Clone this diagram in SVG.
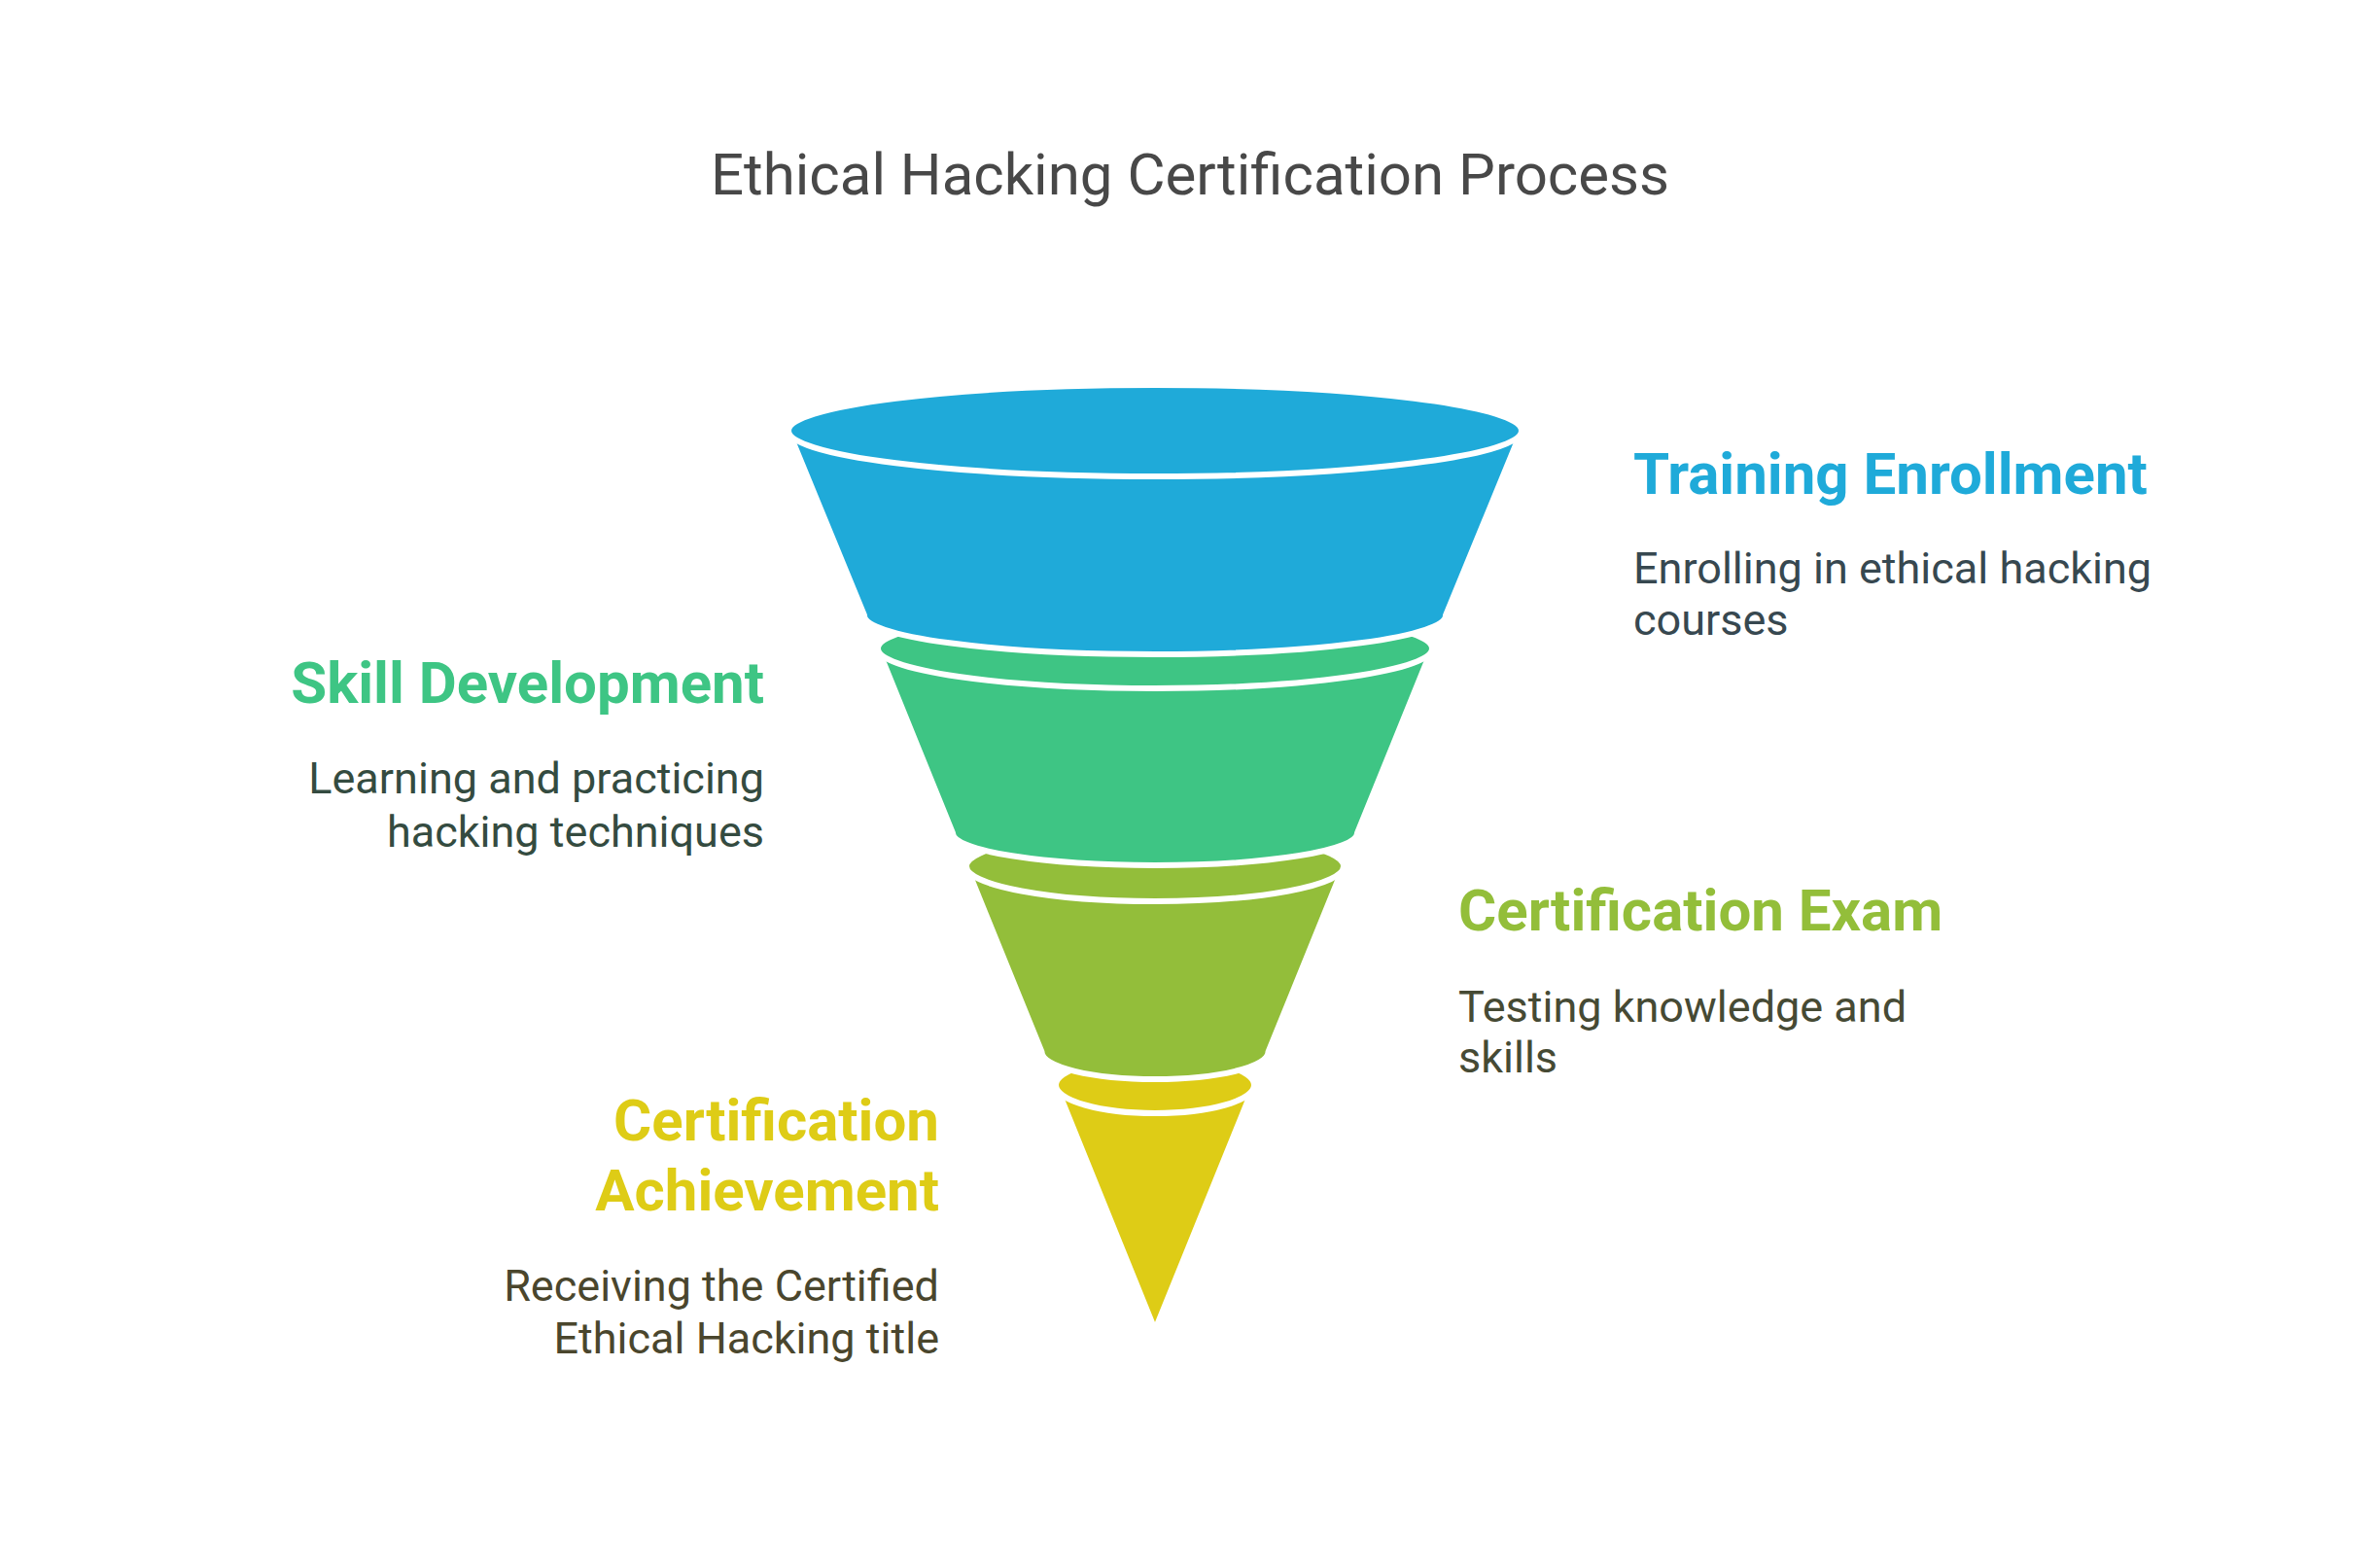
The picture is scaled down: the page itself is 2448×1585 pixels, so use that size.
<svg xmlns="http://www.w3.org/2000/svg" width="2448" height="1585" viewBox="0 0 2448 1585">
<style>
.layer{stroke:#FFFFFF;stroke-width:6;stroke-linejoin:round}
.blue{fill:#1FAAD9}
.green{fill:#3EC584}
.lime{fill:#93BE3A}
.yellow{fill:#DECC16}
.title{font-family:Roboto,"Liberation Sans",sans-serif;font-size:60px;fill:#484848}
.head{font-family:Roboto,"Liberation Sans",sans-serif;font-size:60px;font-weight:bold}
.desc{font-family:Roboto,"Liberation Sans",sans-serif;font-size:45px}
</style>
<rect x="0" y="0" width="2448" height="1585" fill="#FFFFFF"/>
<text class="title" x="1224" y="200" text-anchor="middle">Ethical Hacking Certification Process</text>
<g id="connectors"/>
<g id="stage4-certification-achievement">
<path class="layer yellow" d="M 1086,1116 L 1290,1116 L 1188,1368 Z"/>
<ellipse class="layer yellow" cx="1188" cy="1116" rx="102" ry="29"/>
<text class="head" x="966" y="1173" text-anchor="end" fill="#DECC16">Certification</text>
<text class="head" x="966" y="1245" text-anchor="end" fill="#DECC16">Achievement</text>
<text class="desc" x="966" y="1338" text-anchor="end" fill="#4A462D">Receiving the Certified</text>
<text class="desc" x="966" y="1392" text-anchor="end" fill="#4A462D">Ethical Hacking title</text>
</g>
<g id="stage3-certification-exam">
<path class="layer lime" d="M 994,891 L 1382,891 L 1304.5,1082 A 116.5,28 0 0 1 1071.5,1082 Z"/>
<ellipse class="layer lime" cx="1188" cy="891" rx="194" ry="36"/>
<text class="head" x="1500" y="957" fill="#93BE3A">Certification Exam</text>
<text class="desc" x="1500" y="1051" fill="#464A34">Testing knowledge and</text>
<text class="desc" x="1500" y="1103" fill="#464A34">skills</text>
</g>
<g id="stage2-skill-development">
<path class="layer green" d="M 903,667 L 1473,667 L 1396,857 A 208,33 0 0 1 980,857 Z"/>
<ellipse class="layer green" cx="1188" cy="667" rx="285" ry="41"/>
<text class="head" x="786" y="723" text-anchor="end" fill="#3EC584">Skill Development</text>
<text class="desc" x="786" y="816" text-anchor="end" fill="#344B40">Learning and practicing</text>
<text class="desc" x="786" y="871" text-anchor="end" fill="#344B40">hacking techniques</text>
</g>
<g id="stage1-training-enrollment">
<path class="layer blue" d="M 811,443 L 1565,443 L 1487,633 A 299,40 0 0 1 889,633 Z"/>
<ellipse class="layer blue" cx="1188" cy="443" rx="377" ry="47"/>
<text class="head" x="1680" y="508" fill="#1FAAD9">Training Enrollment</text>
<text class="desc" x="1680" y="600" fill="#374850">Enrolling in ethical hacking</text>
<text class="desc" x="1680" y="653" fill="#374850">courses</text>
</g>
</svg>
